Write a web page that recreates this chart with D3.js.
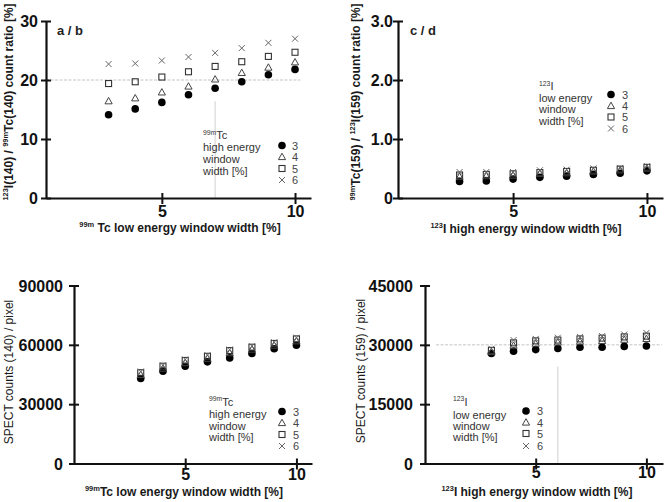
<!DOCTYPE html>
<html><head><meta charset="utf-8">
<script src="https://cdn.jsdelivr.net/npm/d3@7"></script>
<style>body{margin:0;background:#fff}svg{display:block}</style>
</head><body><svg id="c" width="667" height="502"></svg>
<script>
// ---------------- data ----------------
const windowWidths = [3, 4, 5, 6, 7, 8, 9, 10];
const legendLevels = ["3", "4", "5", "6"];
const markerKinds = ["circle", "triangle", "square", "cross"];
const xTicks = [5, 10];

// a/b : 123I(140) / 99mTc(140) count ratio [%]
const ratioAB_w3 = [14.1, 15.1, 16.2, 17.5, 18.6, 19.7, 20.9, 21.8];
const ratioAB_w4 = [16.4, 16.9, 17.9, 18.9, 20.1, 21.2, 22.1, 23.0];
const ratioAB_w5 = [19.4, 19.7, 20.5, 21.4, 22.3, 23.1, 24.0, 24.7];
const ratioAB_w6 = [22.7, 22.8, 23.3, 23.9, 24.6, 25.4, 26.3, 27.0];
const yTicksAB = [0, 10, 20, 30];

// c/d : 99mTc(159) / 123I(159) count ratio [%]
const ratioCD_w3 = [0.28, 0.29, 0.32, 0.35, 0.37, 0.40, 0.42, 0.46];
const ratioCD_w4 = [0.36, 0.37, 0.38, 0.41, 0.42, 0.45, 0.47, 0.50];
const ratioCD_w5 = [0.39, 0.40, 0.41, 0.43, 0.45, 0.47, 0.49, 0.52];
const ratioCD_w6 = [0.44, 0.44, 0.44, 0.47, 0.48, 0.50, 0.51, 0.54];
const yTicksCD = [0, 1.0, 2.0, 3.0];

// SPECT counts (140) / pixel
const counts140_w3 = [43000, 46700, 49200, 51400, 53400, 55600, 58000, 59800];
const counts140_w4 = [44800, 48000, 50800, 53000, 55800, 57600, 59600, 61800];
const counts140_w5 = [45900, 49200, 52100, 54200, 57100, 58800, 60700, 63000];
const counts140_w6 = [46500, 49600, 52600, 54800, 57600, 59300, 61300, 63600];
const yTicks140 = [0, 30000, 60000, 90000];

// SPECT counts (159) / pixel
const counts159_w3 = [27800, 28400, 28800, 29100, 29400, 29400, 29600, 29700];
const counts159_w4 = [28200, 29800, 30300, 30600, 30800, 31000, 31300, 31500];
const counts159_w5 = [28600, 30500, 31000, 31200, 31500, 31700, 32000, 32200];
const counts159_w6 = [29000, 31200, 31500, 31800, 32000, 32200, 32600, 33000];
const yTicks159 = [0, 15000, 30000, 45000];

// ---------------- drawing ----------------
const F = "'Liberation Sans', Arial, Helvetica, sans-serif";
const svg = d3.select("#c");

function marker(g, kind, cx, cy) {
  if (kind === "circle") {
    g.append("circle").attr("cx", cx).attr("cy", cy).attr("r", 3.8).attr("fill", "#000");
  } else if (kind === "triangle") {
    g.append("path").attr("transform", `translate(${cx},${cy})`)
      .attr("d", "M0,-3.8L3.6,2.6L-3.6,2.6Z").attr("fill", "none").attr("stroke", "#444").attr("stroke-width", 1);
  } else if (kind === "square") {
    g.append("rect").attr("x", cx - 3).attr("y", cy - 3).attr("width", 6).attr("height", 6)
      .attr("fill", "none").attr("stroke", "#333").attr("stroke-width", 1.1);
  } else {
    g.append("path").attr("transform", `translate(${cx},${cy})`)
      .attr("d", "M-3,-3L3,3M-3,3L3,-3").attr("fill", "none").attr("stroke", "#666").attr("stroke-width", 1);
  }
}

function rich(g, x, y, parts, opts) {
  const t = g.append("text").attr("x", x).attr("y", y)
    .attr("font-family", F).attr("font-size", opts.size).attr("font-weight", opts.weight || "normal")
    .attr("fill", opts.fill || "#111").attr("text-anchor", opts.anchor || "start");
  if (opts.rotate) t.attr("transform", `rotate(-90,${x},${y})`);
  let up = false;
  parts.forEach(p => {
    const s = t.append("tspan").text(p.t);
    if (p.sup) { s.attr("font-size", opts.size * 0.62); if (!up) { s.attr("dy", -opts.size * 0.38); up = true; } }
    else { if (up) { s.attr("dy", opts.size * 0.38); up = false; } }
  });
  return t;
}

function drawPanel(p) {
  const x = d3.scaleLinear().domain(p.xDomain).range(p.xRange);
  const y = d3.scaleLinear().domain(p.yDomain).range(p.yRange);
  const g = svg.append("g");

  // reference lines
  if (p.hRef) g.append("line").attr("x1", x(p.hRef.from)).attr("x2", x(p.hRef.to))
    .attr("y1", y(p.hRef.v)).attr("y2", y(p.hRef.v)).attr("stroke", "#c4c4c4").attr("stroke-width", 1).attr("stroke-dasharray", "3,1.5");
  if (p.vRef) g.append("line").attr("x1", x(p.vRef.v)).attr("x2", x(p.vRef.v))
    .attr("y1", y(p.vRef.from)).attr("y2", y(p.yDomain[0])).attr("stroke", "#d0d0d0").attr("stroke-width", 1);

  // x axis
  const gx = g.append("g").attr("transform", `translate(0,${y(p.yDomain[0])})`)
    .call(d3.axisBottom(x).tickValues(xTicks).tickFormat(d3.format("d")).tickSizeOuter(0));
  gx.select(".domain").attr("stroke", "#111").attr("stroke-width", 2.2);
  gx.selectAll(".tick line").attr("y1", -5).attr("y2", 6).attr("stroke", "#111").attr("stroke-width", 2);
  gx.selectAll(".tick text").attr("y", p.xTickY).attr("dy", 0)
    .attr("font-family", F).attr("font-size", 16).attr("font-weight", "bold").attr("fill", "#111");

  // y axis
  const gy = g.append("g").attr("transform", `translate(${p.xRange[0]},0)`)
    .call(d3.axisLeft(y).tickValues(p.yTicks).tickFormat(p.yFmt).tickSizeOuter(0));
  gy.select(".domain").attr("stroke", "#111").attr("stroke-width", 2.2);
  gy.selectAll(".tick line").attr("x1", -5).attr("x2", 5).attr("stroke", "#111").attr("stroke-width", 2);
  gy.selectAll(".tick text").attr("x", -p.yTickGap).attr("dy", "0.36em")
    .attr("font-family", F).attr("font-size", 16).attr("font-weight", "bold").attr("fill", "#111");

  // data
  const gd = g.append("g");
  p.series.forEach((vals, si) => {
    vals.forEach((v, i) => marker(gd, markerKinds[si], x(windowWidths[i]), y(v)));
  });

  // labels
  rich(g, p.yLab.x, p.yLab.y, p.yLab.parts, { size: p.yLab.size, weight: p.yLab.weight, rotate: true, anchor: "middle", fill: "#1a1a1a" });
  rich(g, p.xLab.x, p.xLab.y, p.xLab.parts, { size: 12, weight: "bold", anchor: "middle", fill: "#1a1a1a" });
  if (p.tag) g.append("text").attr("x", p.tag.x).attr("y", p.tag.y).text(p.tag.t)
    .attr("font-family", F).attr("font-size", 13).attr("font-weight", "bold").attr("fill", "#222");

  // legend
  const L = p.legend;
  L.title.forEach((parts, i) => rich(g, L.tx, L.ty[i], parts, { size: 11, fill: "#333" }));
  legendLevels.forEach((lv, i) => {
    marker(g, markerKinds[i], L.mx, L.ny[i] - 4);
    g.append("text").attr("x", L.nx).attr("y", L.ny[i]).text(lv)
      .attr("font-family", F).attr("font-size", 11).attr("fill", "#444");
  });
}

const titleTc = [[{ t: "99m", sup: true }, { t: "Tc" }], [{ t: "high energy" }], [{ t: "window" }], [{ t: "width [%]" }]];
const titleI = [[{ t: "123", sup: true }, { t: "I" }], [{ t: "low energy" }], [{ t: "window" }], [{ t: "width [%]" }]];

drawPanel({
  xDomain: [0.65, 10.6], xRange: [46, 311], yDomain: [0, 30], yRange: [198, 21],
  yTicks: yTicksAB, yFmt: d3.format("d"), yTickGap: 8, xTickY: 19,
  series: [ratioAB_w3, ratioAB_w4, ratioAB_w5, ratioAB_w6],
  hRef: { v: 20, from: 0.65, to: 10.2 }, vRef: { v: 7, from: 16.4 },
  tag: { t: "a / b", x: 57, y: 35 },
  yLab: { x: 12.5, y: 102, size: 12, weight: "bold", parts: [{ t: "123", sup: true }, { t: "I(140) / " }, { t: "99m", sup: true }, { t: "Tc(140) count ratio [%]" }] },
  xLab: { x: 180, y: 231.5, parts: [{ t: "99m", sup: true }, { t: " Tc low energy window width [%]" }] },
  legend: { title: titleTc, tx: 203, ty: [139, 151, 163, 175], mx: 282, nx: 292, ny: [149.5, 161, 172.5, 184] }
});

drawPanel({
  xDomain: [0.7, 10.6], xRange: [398, 663], yDomain: [0, 3], yRange: [198, 21],
  yTicks: yTicksCD, yFmt: d => d === 0 ? "0" : d3.format(".1f")(d), yTickGap: 5, xTickY: 19,
  series: [ratioCD_w3, ratioCD_w4, ratioCD_w5, ratioCD_w6],
  tag: { t: "c / d", x: 410, y: 35 },
  yLab: { x: 360, y: 102, size: 12, weight: "bold", parts: [{ t: "99m", sup: true }, { t: "Tc(159) / " }, { t: "123", sup: true }, { t: "I(159) count ratio [%]" }] },
  xLab: { x: 526, y: 233, parts: [{ t: "123", sup: true }, { t: "I high energy window width [%]" }] },
  legend: { title: titleI, tx: 539, ty: [90, 101.5, 113, 124.5], mx: 611, nx: 622, ny: [98.5, 110, 121, 132.5] }
});

drawPanel({
  xDomain: [0, 10.7], xRange: [74, 312], yDomain: [0, 90000], yRange: [463.5, 285.5],
  yTicks: yTicks140, yFmt: d3.format("d"), yTickGap: 11, xTickY: 16,
  series: [counts140_w3, counts140_w4, counts140_w5, counts140_w6],
  yLab: { x: 13, y: 372, size: 12, weight: "normal", parts: [{ t: "SPECT counts (140) / pixel" }] },
  xLab: { x: 184, y: 496, parts: [{ t: "99m", sup: true }, { t: "Tc low energy window width [%]" }] },
  legend: { title: titleTc, tx: 209, ty: [405.5, 418, 429.5, 441], mx: 282, nx: 293, ny: [415.5, 427, 438.5, 450] }
});

drawPanel({
  xDomain: [0, 10.75], xRange: [425, 663], yDomain: [0, 45000], yRange: [463.5, 285.5],
  yTicks: yTicks159, yFmt: d3.format("d"), yTickGap: 12, xTickY: 14,
  series: [counts159_w3, counts159_w4, counts159_w5, counts159_w6],
  hRef: { v: 30000, from: 0.5, to: 10.7 }, vRef: { v: 6, from: 24500 },
  yLab: { x: 365, y: 371, size: 12, weight: "normal", parts: [{ t: "SPECT counts (159) / pixel" }] },
  xLab: { x: 537, y: 496, parts: [{ t: "123", sup: true }, { t: "I high energy window width [%]" }] },
  legend: { title: titleI, tx: 453, ty: [405.5, 419, 430, 441], mx: 526, nx: 537, ny: [415, 426.5, 437.5, 450] }
});
</script></body></html>
